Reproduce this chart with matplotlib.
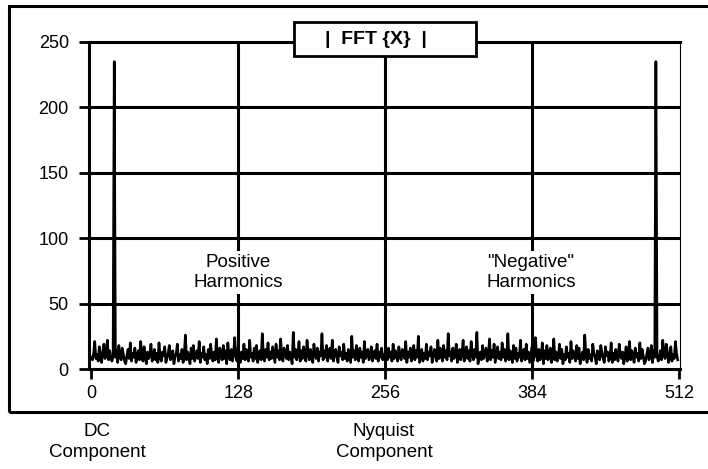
import matplotlib
matplotlib.use("Agg")
import matplotlib.pyplot as plt
from matplotlib.patches import Rectangle

plt.rcParams['font.family'] = ['Liberation Sans', 'DejaVu Sans']

# magnitude of bins 0..256 (DC up to Nyquist)
half_spectrum = [
    9, 7, 12, 21, 8, 11, 6, 17, 10, 5,
    13, 19, 8, 11, 22, 7, 14, 9, 6, 10,
    235, 9, 14, 5, 18, 10, 7, 16, 11, 6,
    4, 10, 15, 8, 20, 6, 12, 9, 16, 5,
    10, 14, 7, 21, 11, 6, 17, 9, 4, 13,
    8, 11, 19, 6, 10, 15, 7, 12, 5, 20,
    9, 6, 13, 10, 17, 5, 8, 12, 18, 7,
    10, 14, 4, 9, 12, 19, 6, 11, 8, 15,
    5, 11, 26, 7, 13, 9, 4, 16, 8, 18,
    6, 10, 14, 8, 21, 5, 12, 9, 17, 7,
    11, 4, 15, 8, 19, 10, 6, 13, 7, 23,
    9, 5, 16, 11, 7, 18, 8, 14, 4, 20,
    10, 7, 15, 6, 12, 24, 9, 6, 17, 11,
    5, 13, 8, 19, 7, 15, 10, 6, 22, 9,
    12, 6, 16, 8, 18, 5, 11, 14, 7, 27,
    10, 6, 15, 9, 20, 7, 13, 8, 17, 11,
    5, 19, 9, 14, 7, 23, 10, 6, 16, 12,
    8, 18, 7, 13, 10, 4, 28, 9, 15, 7,
    11, 21, 6, 14, 8, 17, 10, 6, 22, 12,
    7, 15, 9, 5, 19, 11, 8, 16, 6, 13,
    10, 27, 7, 14, 9, 18, 6, 12, 16, 8,
    22, 6, 11, 15, 9, 5, 17, 10, 13, 7,
    19, 8, 12, 6, 15, 10, 5, 25, 9, 14,
    7, 18, 11, 6, 16, 9, 13, 5, 21, 8,
    12, 15, 7, 10, 17, 6, 11, 14, 8, 19,
    6, 13, 9, 16, 7, 11, 10,
]
# real input -> |X[N-k]| == |X[k]|, so bins 257..511 repeat bins 255..1
spectrum = half_spectrum + half_spectrum[255:0:-1]
bins = list(range(len(spectrum)))

x_ticks = [0, 128, 256, 384, 512]
y_ticks = [0, 50, 100, 150, 200, 250]

fig = plt.figure(figsize=(7.08, 4.69), dpi=100)
ax = fig.add_axes([89 / 708, 100 / 469, 591 / 708, 327 / 469])

# grid
for x in x_ticks[1:-1]:
    ax.axvline(x, color='black', lw=2.2, zorder=1)
for y in y_ticks[1:-1]:
    ax.axhline(y, color='black', lw=2.2, zorder=1)

ax.plot(bins, spectrum, color='black', lw=1.9, zorder=3)

ax.set_xlim(-2, 513)
ax.set_ylim(0, 250)
ax.set_xticks(x_ticks)
ax.set_yticks(y_ticks)
ax.tick_params(axis='both', direction='out', length=7.5, width=2, labelsize=13, color='black')
ax.tick_params(axis='y', pad=7)
ax.tick_params(axis='x', pad=4)
for side in ['left', 'top', 'bottom']:
    ax.spines[side].set_linewidth(2.2)
ax.spines['right'].set_linewidth(0.8)

box = dict(facecolor='white', edgecolor='none', pad=2)
ax.text(128, 74, 'Positive\nHarmonics', ha='center', va='center', fontsize=13.5,
        linespacing=1.25, bbox=box, zorder=4)
ax.text(383, 74, '"Negative"\nHarmonics', ha='center', va='center', fontsize=13.5,
        linespacing=1.25, bbox=box, zorder=4)

# labels below the frame
fig.text(97 / 708, 1 - 442 / 469, 'DC\nComponent', ha='center', va='center',
         fontsize=13.5, linespacing=1.25)
fig.text(384 / 708, 1 - 442 / 469, 'Nyquist\nComponent', ha='center', va='center',
         fontsize=13.5, linespacing=1.25)

# outer frame
fig.patches.append(Rectangle((9 / 708, 57 / 469), 1.0, 406 / 469, transform=fig.transFigure,
                             fill=False, edgecolor='black', lw=2.2, zorder=0))

# title box
fig.patches.append(Rectangle((294 / 708, 413 / 469), 182 / 708, 34 / 469, transform=fig.transFigure,
                             facecolor='white', edgecolor='black', lw=2, zorder=5))
fig.text(376 / 708, 1 - 39 / 469, '|  FFT {X}  |', ha='center', va='center',
         fontsize=14, fontweight='bold', zorder=6)

fig.savefig('out.png', dpi=100)
